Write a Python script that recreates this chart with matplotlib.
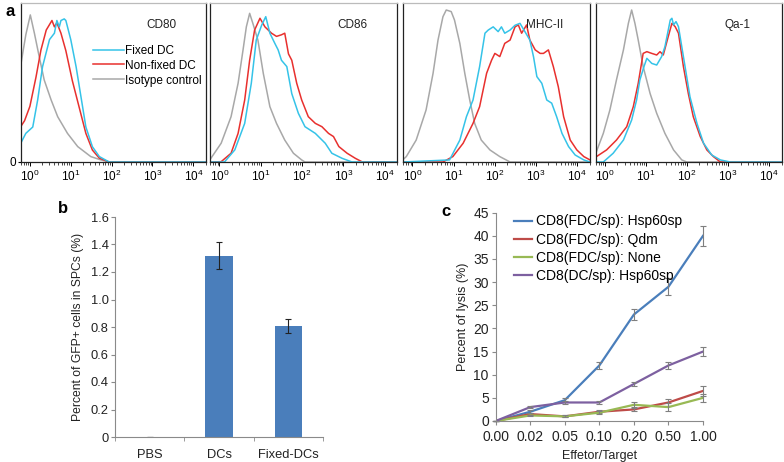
import matplotlib
matplotlib.use("Agg")
import matplotlib.pyplot as plt
import numpy as np

plt.rcParams['font.family'] = ['Liberation Sans', 'DejaVu Sans']
plt.rcParams['mathtext.default'] = 'regular'

# ---- panel a: flow histograms (x = log10 fluorescence, y = % of max height) ----
LEFT, RIGHT = -0.23, 4.31

cd80_fixed_x = [-0.23, -0.1, 0.07, 0.19, 0.31, 0.48, 0.6, 0.66, 0.72, 0.76, 0.84, 0.88, 1.0, 1.13, 1.25, 1.37, 1.53, 1.7, 1.94, RIGHT]
cd80_fixed_y = [11.5, 18, 22, 39, 60, 77, 81, 89, 85, 89, 90, 89, 77, 60, 41, 22, 9.6, 3.4, 0, 0]
cd80_non_x = [-0.23, -0.13, 0.0, 0.15, 0.27, 0.40, 0.54, 0.6, 0.66, 0.76, 0.88, 1.04, 1.21, 1.37, 1.53, 1.7, 1.94, RIGHT]
cd80_non_y = [22, 26, 35, 53.5, 70.4, 83, 89, 85, 87.6, 81, 70, 51, 34, 18, 7.5, 2.4, 0, 0]
cd80_iso_x = [-0.23, -0.1, 0.01, 0.11, 0.23, 0.35, 0.52, 0.68, 0.92, 1.17, 1.49, 1.74, 1.95, RIGHT]
cd80_iso_y = [60, 80, 92.5, 81, 66, 51.6, 39, 28.5, 18, 9.7, 3.4, 1.3, 0, 0]

cd86_fixed_x = [LEFT, 0.12, 0.37, 0.61, 0.77, 0.89, 1.02, 1.12, 1.22, 1.34, 1.42, 1.5, 1.63, 1.75, 1.91, 2.07, 2.32, 2.56, 2.72, 2.97, 3.21, RIGHT]
cd86_fixed_y = [0, 0, 7.6, 24.3, 49.5, 76.7, 86, 91.4, 81, 74.6, 70.5, 64, 60, 43, 30.6, 22.2, 18, 11.8, 5.5, 2.3, 0, 0]
cd86_non_x = [LEFT, 0.04, 0.28, 0.45, 0.61, 0.73, 0.85, 0.98, 1.1, 1.26, 1.38, 1.5, 1.58, 1.67, 1.75, 1.87, 1.99, 2.15, 2.32, 2.48, 2.64, 2.76, 2.89, 3.09, 3.29, 3.46, RIGHT]
cd86_non_y = [0, 0.2, 5.5, 18, 39, 64, 83, 90.4, 85, 81, 79, 80, 81, 68, 64, 49.5, 39, 28.5, 24.3, 22.2, 18, 16, 9.7, 5.5, 2.3, 0, 0]
cd86_iso_x = [LEFT, 0.04, 0.28, 0.45, 0.57, 0.65, 0.73, 0.81, 0.93, 1.06, 1.22, 1.38, 1.58, 1.79, 1.99, 2.07, RIGHT]
cd86_iso_y = [1.5, 11.8, 28.5, 49.5, 70.5, 85, 93.5, 87, 76.7, 55.8, 34.8, 24.3, 13.8, 5.5, 1.3, 0, 0]

mhc_fixed_x = [LEFT, 0.9, 1.15, 1.31, 1.47, 1.63, 1.76, 1.84, 1.96, 2.08, 2.16, 2.24, 2.37, 2.49, 2.61, 2.73, 2.85, 2.94, 3.02, 3.14, 3.26, 3.38, 3.5, 3.63, 3.79, 3.95, 4.16, RIGHT]
mhc_fixed_y = [0, 1.3, 13.8, 28.5, 39, 60, 81, 83, 85, 82, 85, 81, 83, 86, 87.2, 82, 76.7, 66, 53.7, 49.5, 39, 37, 28.5, 18, 9.7, 4.4, 1.3, 0]
mhc_non_x = [LEFT, 0.74, 0.98, 1.23, 1.47, 1.63, 1.8, 1.92, 2.0, 2.12, 2.24, 2.37, 2.49, 2.57, 2.65, 2.77, 2.85, 2.98, 3.1, 3.18, 3.3, 3.42, 3.54, 3.67, 3.83, 3.99, 4.16, RIGHT]
mhc_non_y = [0, 0, 3.4, 11.8, 24.3, 34.8, 55.8, 64, 68.3, 66.3, 74.6, 76.7, 85, 86.2, 81, 86.2, 76.7, 70.5, 68.3, 68.3, 70.5, 60, 47.4, 28.5, 13.8, 7.6, 3.4, 1.3]
mhc_iso_x = [LEFT, -0.15, 0.09, 0.33, 0.5, 0.62, 0.74, 0.82, 0.94, 1.02, 1.15, 1.27, 1.39, 1.51, 1.67, 1.88, 2.12, 2.37, RIGHT]
mhc_iso_y = [1.5, 3.4, 13.8, 32.7, 55.8, 76.7, 91.4, 95.6, 94.6, 89.3, 74.6, 55.8, 39, 24.3, 13.8, 7.6, 3.4, 0, 0]

qa1_fixed_x = [LEFT, -0.04, 0.2, 0.45, 0.65, 0.77, 0.85, 0.95, 1.02, 1.14, 1.26, 1.38, 1.46, 1.59, 1.63, 1.67, 1.73, 1.79, 1.95, 2.07, 2.24, 2.4, 2.6, 2.81, 3.05, RIGHT]
qa1_fixed_y = [0, 0, 5.5, 13.8, 26.4, 39, 51.6, 60, 65.2, 62, 61, 66.3, 72.5, 89.3, 90.4, 86.2, 88.3, 85.1, 60, 41, 24.3, 11.8, 4.4, 1.3, 0, 0]
qa1_non_x = [LEFT, 0.04, 0.28, 0.53, 0.69, 0.81, 0.93, 1.02, 1.14, 1.26, 1.34, 1.42, 1.54, 1.63, 1.71, 1.79, 1.91, 2.03, 2.15, 2.32, 2.48, 2.64, 2.81, RIGHT]
qa1_non_y = [3, 7.6, 13.8, 22.2, 34.8, 49.5, 68.3, 69.4, 68.3, 67.3, 69.4, 67.3, 78.8, 87.2, 85.1, 81, 60, 43, 28.5, 16, 7.6, 3.4, 0, 0]
qa1_iso_x = [LEFT, -0.04, 0.12, 0.28, 0.45, 0.57, 0.65, 0.73, 0.81, 0.93, 1.1, 1.26, 1.46, 1.67, 1.87, 1.99, RIGHT]
qa1_iso_y = [5, 18, 32.7, 51.6, 70.5, 87.2, 95.6, 87.2, 76.7, 60, 43, 30.6, 18, 7.6, 1.3, 0, 0]

markers = ['CD80', 'CD86', 'MHC-II', 'Qa-1']
legend_labels = ['Fixed DC', 'Non-fixed DC', 'Isotype control']
panel_lefts = [20.5, 210, 403, 595.5]
panel_rights = [206, 397.5, 590, 782]

# ---- panel b ----
groups = ['PBS', 'DCs', 'Fixed-DCs']
gfp = [0, 1.32, 0.81]
gfp_err = [0, 0.10, 0.05]

# ---- panel c ----
ratios = ['0.00', '0.02', '0.05', '0.10', '0.20', '0.50', '1.00']
lysis_labels = ['CD8(FDC/sp): Hsp60sp', 'CD8(FDC/sp): Qdm', 'CD8(FDC/sp): None', 'CD8(DC/sp): Hsp60sp']
lysis_fdc_hsp = [0, 2, 4.5, 12, 23, 29, 40]
lysis_fdc_hsp_err = [0, 0.3, 0.5, 0.8, 1.2, 1.8, 2.2]
lysis_fdc_qdm = [0, 1.5, 1, 2, 2.5, 4, 6.5]
lysis_fdc_qdm_err = [0, 0.3, 0.2, 0.3, 0.4, 0.8, 1.0]
lysis_fdc_none = [0, 1.2, 1, 1.8, 3.5, 3, 5]
lysis_fdc_none_err = [0, 0.2, 0.2, 0.3, 0.5, 0.8, 0.8]
lysis_dc_hsp = [0, 3, 4, 4, 8, 12, 15]
lysis_dc_hsp_err = [0, 0.2, 0.4, 0.3, 0.5, 0.8, 1.0]

W, H = 784, 462
fig = plt.figure(figsize=(W / 100, H / 100), dpi=100)

CYAN, RED, GRAY = '#35c3e8', '#e8302e', '#a8a8a8'
hist_data = [
    [(cd80_fixed_x, cd80_fixed_y), (cd80_non_x, cd80_non_y), (cd80_iso_x, cd80_iso_y)],
    [(cd86_fixed_x, cd86_fixed_y), (cd86_non_x, cd86_non_y), (cd86_iso_x, cd86_iso_y)],
    [(mhc_fixed_x, mhc_fixed_y), (mhc_non_x, mhc_non_y), (mhc_iso_x, mhc_iso_y)],
    [(qa1_fixed_x, qa1_fixed_y), (qa1_non_x, qa1_non_y), (qa1_iso_x, qa1_iso_y)],
]

top, base = 3, 162
for i in range(4):
    l, r = panel_lefts[i], panel_rights[i]
    ax = fig.add_axes([l / W, 1 - base / H, (r - l) / W, (base - top) / H])
    curves = hist_data[i]
    # isotype first so the coloured curves sit on top
    for (xs, ys), c, lab in zip(curves[::-1], [GRAY, RED, CYAN], legend_labels[::-1]):
        ax.plot(10 ** np.array(xs), ys, color=c, lw=1.1, label=lab, solid_joinstyle='round')
    ax.set_xscale('log')
    ax.set_xlim(10 ** LEFT, 10 ** RIGHT)
    ax.set_ylim(0, 100)
    ax.tick_params(axis='x', which='major', length=3, width=0.7, labelsize=8.5, pad=2, direction='out')
    ax.tick_params(axis='x', which='minor', length=1.8, width=0.5)
    if i == 0:
        ax.set_yticks([0])
        ax.tick_params(axis='y', length=2, labelsize=8.5, pad=1)
    else:
        ax.set_yticks([])
    for s in ax.spines.values():
        s.set_color('#222222')
        s.set_linewidth(0.9)
    ax.spines['top'].set_color('#bbbbbb')
    ax.text(0.76, 0.86, markers[i], transform=ax.transAxes, ha='center', va='center', fontsize=8.5, color='#222222')
    if i == 0:
        h, labs = ax.get_legend_handles_labels()
        ax.legend(h[::-1], labs[::-1], loc='upper left', bbox_to_anchor=(0.36, 0.775), frameon=False,
                  fontsize=8.5, handlelength=2.6, handletextpad=0.1, labelspacing=0.25, borderpad=0)

fig.text(5 / W, 1 - 12 / H, 'a', fontsize=12, fontweight='bold', va='center')

# ---- panel b ----
AXC = '#8a8a8a'
axb = fig.add_axes([115 / W, 1 - 437 / H, (323 - 115) / W, (437 - 217) / H])
xb = np.arange(len(groups))
axb.bar(xb, gfp, width=0.39, color='#4a7ebb', yerr=gfp_err,
        error_kw=dict(ecolor='#222222', elinewidth=0.8, capsize=2.5, capthick=0.8))
axb.set_xlim(-0.5, 2.5)
axb.set_ylim(0, 1.6)
axb.set_yticks(np.arange(0, 1.61, 0.2))
axb.set_yticklabels(['0'] + ['%.1f' % v for v in np.arange(0.2, 1.61, 0.2)])
axb.set_xticks(xb)
axb.set_xticklabels(groups)
axb.set_xticks([-0.5, 0.5, 1.5, 2.5], minor=True)
axb.tick_params(axis='x', which='major', length=0, labelsize=9.3, pad=9, colors='#222222')
axb.tick_params(axis='x', which='minor', length=3, color=AXC)
axb.tick_params(axis='y', length=3, color=AXC, labelsize=9.3, colors='#222222', pad=1.5)
for s in ['top', 'right']:
    axb.spines[s].set_visible(False)
for s in ['left', 'bottom']:
    axb.spines[s].set_color(AXC)
axb.set_ylabel('Percent of GFP+ cells in SPCs (%)', fontsize=8.7, color='#222222', labelpad=5)
fig.text(58 / W, 1 - 208 / H, 'b', fontsize=12, fontweight='bold', va='center')

# ---- panel c ----
axc = fig.add_axes([495.7 / W, 1 - 421 / H, (703 - 495.7) / W, (421 - 212.7) / H])
xc = np.arange(len(ratios))
series = [(lysis_fdc_hsp, lysis_fdc_hsp_err, '#4a7ebb'), (lysis_fdc_qdm, lysis_fdc_qdm_err, '#be4b48'),
          (lysis_fdc_none, lysis_fdc_none_err, '#98b954'), (lysis_dc_hsp, lysis_dc_hsp_err, '#7d60a0')]
for (vals, errs, col), lab in zip(series, lysis_labels):
    axc.plot(xc, vals, color=col, lw=1.6, label=lab)
    eb = axc.errorbar(xc, vals, yerr=errs, fmt='none', ecolor='#7f7f7f', elinewidth=0.8, capsize=2, capthick=0.8)
    for art in eb.get_children():
        art.set_clip_on(False)
axc.set_xlim(0, 6)
axc.set_ylim(0, 45)
axc.set_yticks(range(0, 46, 5))
axc.set_xticks(xc)
axc.set_xticklabels(ratios)
axc.tick_params(axis='both', length=3, color=AXC, labelsize=10, colors='#222222', pad=2)
axc.tick_params(axis='x', pad=3.5)
for s in ['top', 'right']:
    axc.spines[s].set_visible(False)
for s in ['left', 'bottom']:
    axc.spines[s].set_color(AXC)
axc.set_xlabel('Effetor/Target', fontsize=9, color='#222222', labelpad=4)
axc.set_ylabel('Percent of lysis (%)', fontsize=9, color='#222222', labelpad=3)
axc.legend(loc='upper left', bbox_to_anchor=(0.055, 1.025), frameon=False, fontsize=10,
           handlelength=1.3, handletextpad=0.3, labelspacing=0.3, borderpad=0)
fig.text(441 / W, 1 - 212 / H, 'c', fontsize=12, fontweight='bold', va='center')

fig.savefig('out.png', dpi=100)
